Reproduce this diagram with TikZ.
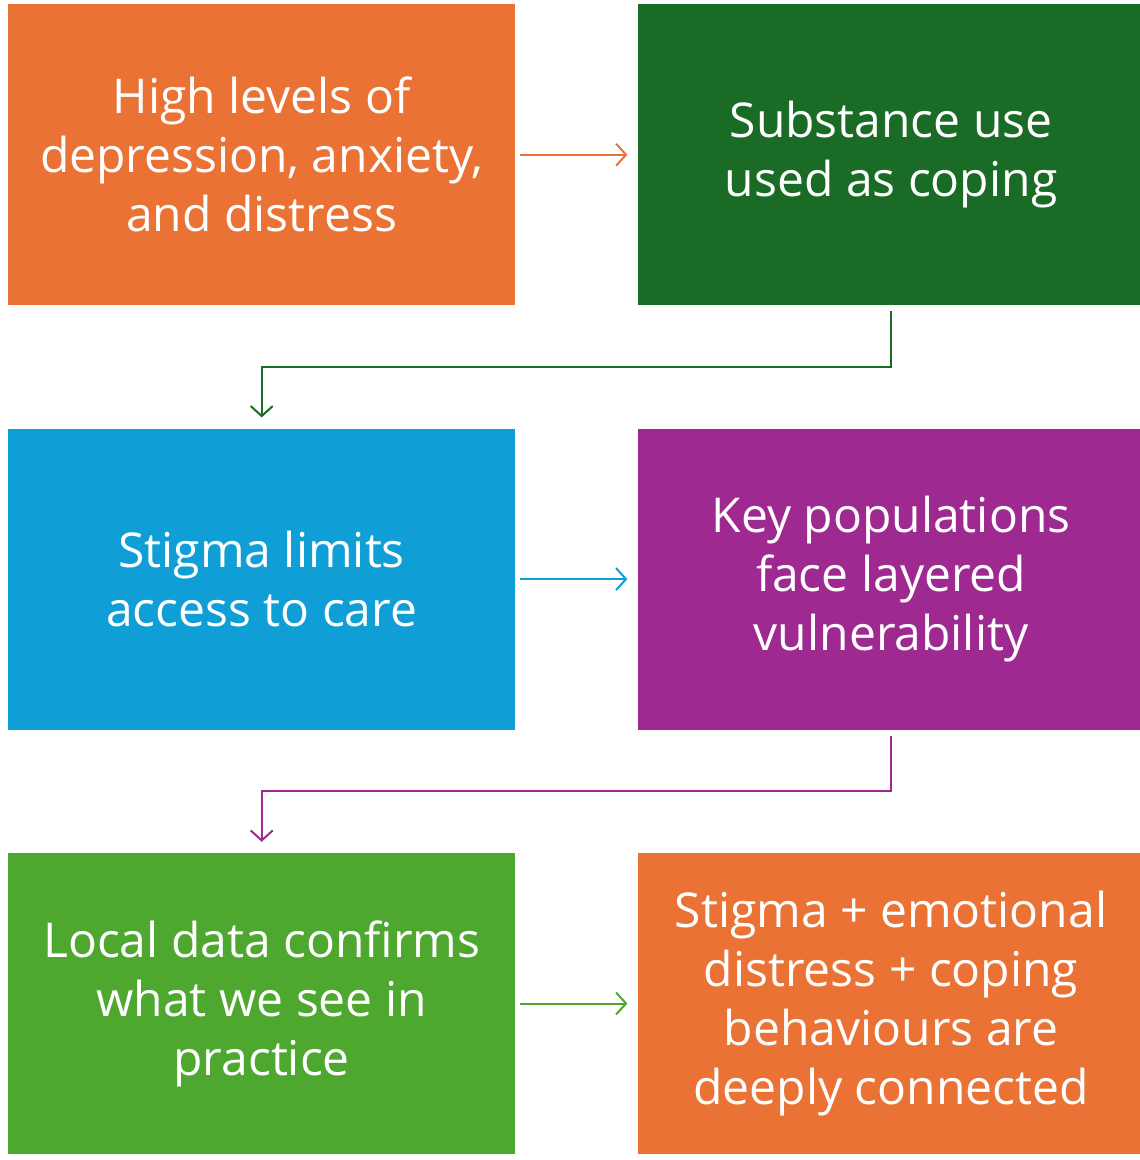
\documentclass[tikz,border=0pt]{standalone}
\usepackage{fontspec}
\setmainfont{Open Sans}
\usetikzlibrary{positioning}
\usetikzlibrary{arrows.meta}
\definecolor{boxorange}{HTML}{EA7234}
\definecolor{boxdkgreen}{HTML}{1A6B25}
\definecolor{boxblue}{HTML}{0F9FD6}
\definecolor{boxpurple}{HTML}{9E2A91}
\definecolor{boxgreen}{HTML}{4EA72E}
\tikzset{%
  flowbox/.style = {rectangle,draw=none,text=white,align=center,
        minimum width=507pt,minimum height=301pt,inner sep=0pt,
        font=\fontsize{48}{59}\selectfont},
  flowarrow/.style = {-{Straight Barb[length=10pt,width=22pt,line width=2pt]},
        line width=2pt,shorten <=5pt,shorten >=10pt}
}
\begin{document}
\begin{tikzpicture}[x=1pt,y=-1pt]
                \useasboundingbox (0,0) rectangle (1140,1160);
                \node[flowbox, fill=boxorange, anchor=north west] (levels) at (8,4)
                        {High levels of\\depression, anxiety,\\and distress};
                \node[flowbox, fill=boxdkgreen] (subst) [right=122pt of levels]
                        {Substance use\\used as coping};
                \node[flowbox, fill=boxblue] (stigma) [below=123pt of levels]
                        {Stigma limits\\access to care};
                \node[flowbox, fill=boxpurple] (keypop) [right=122pt of stigma]
                        {Key populations\\face layered\\vulnerability};
                \node[flowbox, fill=boxgreen] (local) [below=123pt of stigma]
                        {Local data confirms\\what we see in\\practice};
                \node[flowbox, fill=boxorange] (connect) [right=122pt of local]
                        {Stigma + emotional\\distress + coping\\behaviours are\\deeply connected};

                \draw[flowarrow, boxorange] (levels) -- (subst);
                \draw[flowarrow, boxblue] (stigma) -- (keypop);
                \draw[flowarrow, boxgreen] (local) -- (connect);
                \draw[flowarrow, boxdkgreen, shorten <=6pt, shorten >=11pt]
                        (subst.south) -- ([yshift=-61.5pt]subst.south) -| (stigma.north);
                \draw[flowarrow, boxpurple, shorten <=6pt, shorten >=11pt]
                        (keypop.south) -- ([yshift=-61.5pt]keypop.south) -| (local.north);
            \end{tikzpicture}
\end{document}
